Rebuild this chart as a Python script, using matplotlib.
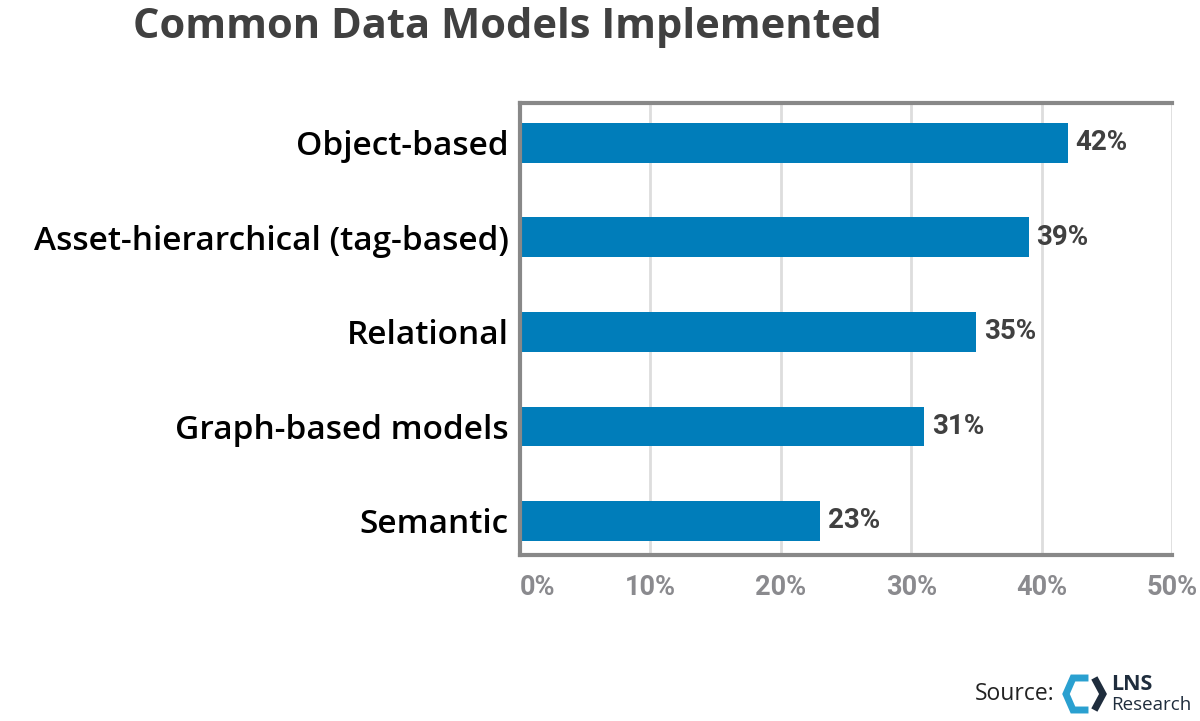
import matplotlib.pyplot as plt
from matplotlib import font_manager
from matplotlib.lines import Line2D

categories = ['Object-based', 'Asset-hierarchical (tag-based)', 'Relational',
              'Graph-based models', 'Semantic']
values = [42, 39, 35, 31, 23]
ticks = [0, 10, 20, 30, 40, 50]

names = {f.name for f in font_manager.fontManager.ttflist}
narrow = 'Liberation Sans Narrow' if 'Liberation Sans Narrow' in names else 'Roboto'

fig = plt.figure(figsize=(12, 7.21), dpi=100)
ax = fig.add_axes([520 / 1200, 1 - 555 / 721, (1172 - 520) / 1200, (555 - 103) / 721])

y = range(len(categories))
ax.barh(list(y), values, height=0.42, color='#007dba')
ax.set_xlim(0, 50)
ax.set_ylim(4.36, -0.42)

for i, v in enumerate(values):
    ax.text(v + 0.6, i, f'{v}%', va='center', ha='left', fontsize=20,
            fontweight='bold', color='#404040', family=narrow)

ax.set_xticks(ticks)
ax.set_xticklabels([f'{t}%' for t in ticks], fontsize=19.5, fontweight='bold',
                   color='#8a8a8e', family=narrow)
for lbl in ax.get_xticklabels():
    lbl.set_horizontalalignment('left' if lbl.get_text() == '0%' else 'center')
ax.set_yticks(list(y))
ax.set_yticklabels(categories, fontsize=24, color='black', family='Open Sans',
                   fontweight='semibold')
ax.tick_params(axis='both', length=0)
ax.tick_params(axis='x', pad=14)
ax.tick_params(axis='y', pad=8)

ax.grid(axis='x', color='#dddddd', linewidth=2)
ax.set_axisbelow(True)
for s in ['left', 'bottom', 'top']:
    ax.spines[s].set_color('#888888')
    ax.spines[s].set_linewidth(3)
ax.spines['right'].set_visible(False)

fig.text(133 / 1200, 1 - 28 / 721, 'Common Data Models Implemented', fontsize=30,
         fontweight='bold', color='#404040', va='center', ha='left', family='Open Sans')

fig.text(975 / 1200, 1 - 694 / 721, 'Source:', fontsize=16.5, color='#222222',
         va='center', ha='left', family='Open Sans')

# LNS logo
def fx(px):
    return px / 1200

def fy(py):
    return 1 - py / 721

fig.add_artist(Line2D([fx(1085), fx(1073), fx(1066), fx(1073), fx(1085)],
                      [fy(678), fy(678), fy(694), fy(710), fy(710)],
                      color='#2aa0d0', linewidth=5, solid_joinstyle='miter'))
fig.add_artist(Line2D([fx(1096), fx(1103), fx(1096)],
                      [fy(681), fy(694), fy(707)],
                      color='#1f2d3d', linewidth=5, solid_joinstyle='miter'))
fig.text(fx(1111), fy(684), 'LNS', fontsize=15.5, fontweight='bold', color='#1f2d3d',
         va='center', ha='left', family='Open Sans')
fig.text(fx(1111), fy(705), 'Research', fontsize=13.5, color='#1f2d3d',
         va='center', ha='left', family='Open Sans')

fig.savefig('out.png', dpi=100)
